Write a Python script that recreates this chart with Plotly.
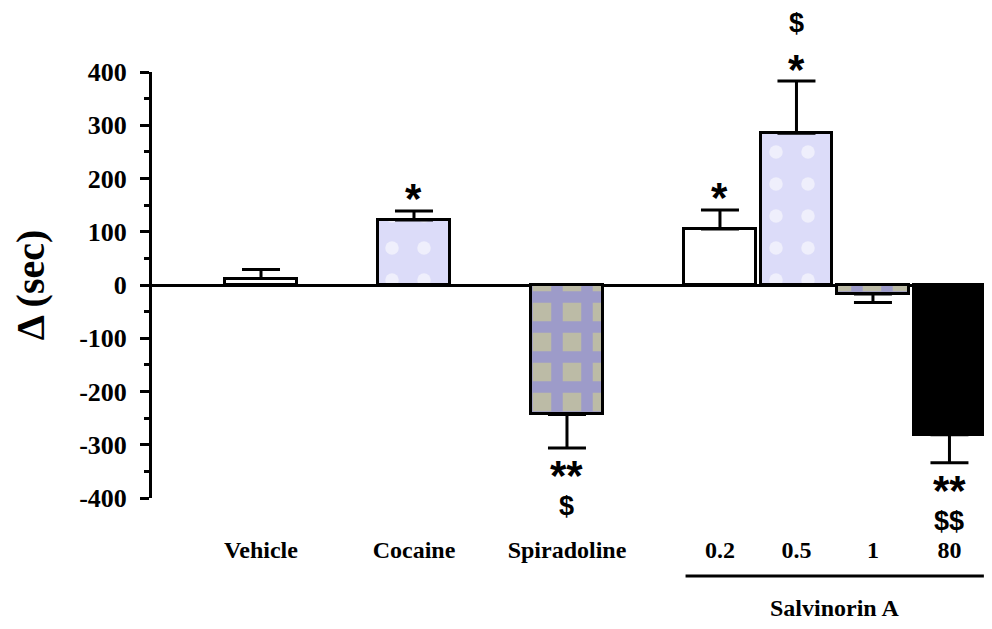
import plotly.graph_objects as go

# ---- data ----
labels = ["Vehicle", "Cocaine", "Spiradoline", "0.2", "0.5", "1", "80"]
group_of = [0, 1, 2, 3, 3, 3, 3]          # Salvinorin A doses form group 3
values = [12, 122, -243, 105, 285, -17, -281]
errors = [17, 17, 63, 36, 98, 16, 53]
stars = ["", "*", "**", "*", "*", "", "**"]
dollars = ["", "", "$", "", "$", "", "$$"]
group_title = "Salvinorin A"
y_ticks = [-400, -300, -200, -100, 0, 100, 200, 300, 400]
fill_style = ["plain", "lavender", "checker", "plain", "lavender", "checker", "solid"]

# ---- positions: unit step within a group, double step between groups ----
pos = []
p = 0
for i, g in enumerate(group_of):
    if i > 0:
        p += 1 if g == group_of[i - 1] else 2
    pos.append(p)

# ---- styles ----
STYLES = {
    "plain": dict(color="white", pattern=dict(shape="")),
    "lavender": dict(color="#dcdcf9",
                     pattern=dict(shape=".", fillmode="replace", bgcolor="#dcdcf9",
                                  fgcolor="#efeffc", fgopacity=1, size=32, solidity=0.14)),
    "checker": dict(color="#bcbba6",
                    pattern=dict(shape="+", fillmode="replace", bgcolor="#bcbba6",
                                 fgcolor="#9d9bc9", fgopacity=1, size=30, solidity=0.62)),
    "solid": dict(color="black", pattern=dict(shape="")),
}

fig = go.Figure()
for x, v, e, st in zip(pos, values, errors, fill_style):
    fig.add_trace(go.Bar(
        x=[x], y=[v], width=0.94,
        marker=dict(line=dict(color="black", width=3), **STYLES[st]),
        error_y=dict(type="data", symmetric=False,
                     array=[e if v >= 0 else 0], arrayminus=[e if v < 0 else 0],
                     color="black", thickness=3, width=19),
        showlegend=False, cliponaxis=False,
    ))

STAR_FONT = dict(family="Liberation Sans", size=42, color="black", weight="bold")
DOL_FONT = dict(family="Liberation Sans", size=27, color="black", weight="bold")

annotations = []
for x, v, e, s, d in zip(pos, values, errors, stars, dollars):
    end = v + e if v >= 0 else v - e
    up = v >= 0
    if s:
        annotations.append(dict(x=x, y=end, xref="x", yref="y", text=s,
                                showarrow=False, font=STAR_FONT,
                                yanchor="middle",
                                yshift=(12 if up else -28)))
    if d:
        annotations.append(dict(x=x, y=end, xref="x", yref="y", text=d,
                                showarrow=False, font=DOL_FONT,
                                yanchor="middle",
                                yshift=(58 if up else -58)))

# group bracket line + title for Salvinorin A
g_idx = [i for i, g in enumerate(group_of) if g == 3]
x0 = pos[g_idx[0]] - 0.45
x1 = pos[g_idx[-1]] + 0.45
shapes = [dict(type="line", xref="x", yref="paper", x0=x0, x1=x1,
               y0=-0.183, y1=-0.183, line=dict(color="black", width=3))]
annotations.append(dict(x=(x0 + x1) / 2, y=-0.258, xref="x", yref="paper",
                        text=group_title, showarrow=False,
                        font=dict(family="Liberation Serif", size=24,
                                  color="black", weight="bold"),
                        yanchor="middle"))

fig.update_layout(
    width=992, height=629,
    margin=dict(l=144, r=10, t=64, b=139),
    paper_bgcolor="white", plot_bgcolor="white",
    annotations=annotations, shapes=shapes,
    barmode="overlay", bargap=0,
)
fig.update_xaxes(
    range=[pos[0] - 1.425, pos[-1] + 0.53],
    tickvals=pos, ticktext=labels,
    showline=False, showgrid=False, zeroline=False, ticks="",
    ticklabelstandoff=35, automargin=False,
    tickfont=dict(family="Liberation Serif", size=24, color="black", weight="bold"),
)
fig.update_yaxes(
    range=[-400, 400], tickvals=y_ticks, ticktext=[str(t) for t in y_ticks],
    showline=True, linecolor="black", linewidth=3,
    ticks="outside", ticklen=9, tickwidth=3, tickcolor="black",
    minor=dict(ticks="outside", ticklen=5, tickwidth=3, tickcolor="black", dtick=50,
               showgrid=False),
    showgrid=False, zeroline=True, zerolinecolor="black", zerolinewidth=3,
    automargin=False, ticklabelstandoff=8,
    tickfont=dict(family="Liberation Serif", size=26, color="black", weight="bold"),
    title=dict(text="Δ (sec)", standoff=24,
               font=dict(family="Liberation Serif", size=40, color="black", weight="bold")),
)

fig.write_html("out.html")
